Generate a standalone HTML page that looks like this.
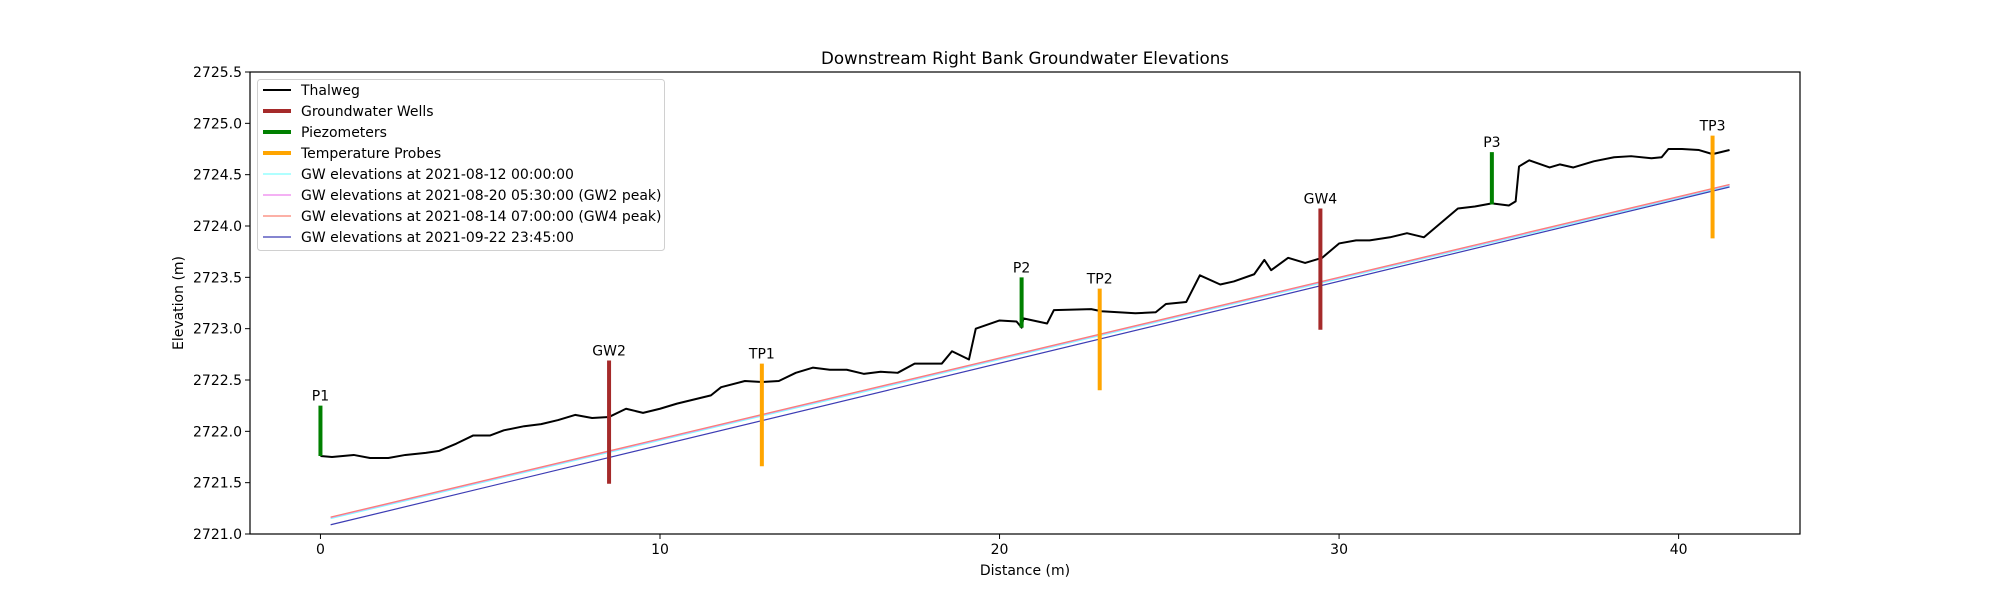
<!DOCTYPE html>
<html><head><meta charset="utf-8"><style>
body{margin:0;background:#fff;}
svg{display:block;font-family:"DejaVu Sans","Liberation Sans",sans-serif;}
</style></head><body>
<svg id="chart" width="2000" height="600" viewBox="0 0 2000 600" xmlns="http://www.w3.org/2000/svg">
<rect width="2000" height="600" fill="#fff"/>
<g id="marks"></g>
</svg>
<script>
const thalwegX=[0,0.34,0.98,1.46,2.0,2.5,3.1,3.5,4.0,4.5,5.0,5.4,6.0,6.5,7.0,7.5,8.0,8.5,9.0,9.5,10.0,10.5,11.0,11.5,11.8,12.5,13.0,13.5,14.0,14.5,15.0,15.5,16.0,16.5,17.0,17.5,18.3,18.6,19.1,19.3,20.0,20.5,20.65,20.7,21.4,21.6,22.7,23.0,24.0,24.6,24.9,25.5,25.9,26.5,26.9,27.5,27.8,28.0,28.5,29.0,29.5,30.0,30.5,30.9,31.5,32.0,32.5,33.5,34.0,34.5,35.0,35.2,35.3,35.6,36.2,36.5,36.9,37.5,38.1,38.6,39.2,39.5,39.7,40.1,40.6,41.0,41.5];
const thalwegY=[2721.76,2721.75,2721.77,2721.74,2721.74,2721.77,2721.79,2721.81,2721.88,2721.96,2721.96,2722.01,2722.05,2722.07,2722.11,2722.16,2722.13,2722.14,2722.22,2722.18,2722.22,2722.27,2722.31,2722.35,2722.43,2722.49,2722.48,2722.49,2722.57,2722.62,2722.60,2722.60,2722.56,2722.58,2722.57,2722.66,2722.66,2722.78,2722.70,2723.0,2723.08,2723.07,2723.01,2723.1,2723.05,2723.18,2723.19,2723.17,2723.15,2723.16,2723.24,2723.26,2723.52,2723.43,2723.46,2723.53,2723.67,2723.57,2723.69,2723.64,2723.69,2723.83,2723.86,2723.86,2723.89,2723.93,2723.89,2724.17,2724.19,2724.22,2724.2,2724.24,2724.58,2724.64,2724.57,2724.6,2724.57,2724.63,2724.67,2724.68,2724.66,2724.67,2724.75,2724.75,2724.74,2724.7,2724.74];
const instNames=["P1","GW2","TP1","P2","TP2","GW4","P3","TP3"];
const instType=["pz","gw","tp","pz","tp","gw","pz","tp"];
const instX=[0,8.5,13.0,20.65,22.95,29.45,34.5,41.0];
const instBottom=[2721.76,2721.49,2721.66,2723.01,2722.40,2722.99,2724.21,2723.88];
const instTop=[2722.25,2722.69,2722.66,2723.50,2723.39,2724.17,2724.72,2724.88];
const gwLabels=["GW elevations at 2021-08-12 00:00:00","GW elevations at 2021-08-20 05:30:00 (GW2 peak)","GW elevations at 2021-08-14 07:00:00 (GW4 peak)","GW elevations at 2021-09-22 23:45:00"];
const gwX=[0.3,41.5];
const gwStartY=[2721.15,2721.16,2721.165,2721.09];
const gwEndY=[2724.39,2724.40,2724.405,2724.38];
const xTicks=[0,10,20,30,40];
const yTicks=[2721.0,2721.5,2722.0,2722.5,2723.0,2723.5,2724.0,2724.5,2725.0,2725.5];

const L=250,R=1800,T=72,B=534;
const xMin=-2.075,xMax=43.575,yMin=2721,yMax=2725.5;
const sx=v=>L+(v-xMin)/(xMax-xMin)*(R-L);
const sy=v=>B-(v-yMin)/(yMax-yMin)*(B-T);
const NS="http://www.w3.org/2000/svg";
const g=document.getElementById('marks');
function mk(tag,attrs,parent){const e=document.createElementNS(NS,tag);for(const k in attrs)e.setAttribute(k,attrs[k]);(parent||g).appendChild(e);return e;}
const colors={gw:"#a52a2a",pz:"#008000",tp:"#ffa500"};
const gwColors=["#80ffff","#ee82ee","#fa8072","#3c3cb4"];

// GW lines
gwLabels.forEach((lab,i)=>{
  const e=mk('line',{x1:sx(gwX[0]),y1:sy(gwStartY[i]),x2:sx(gwX[1]),y2:sy(gwEndY[i]),stroke:gwColors[i],'stroke-width':1.2});
  
  
});
// thalweg
const tp=mk('polyline',{points:thalwegX.map((x,i)=>sx(x)+','+sy(thalwegY[i])).join(' '),fill:'none',stroke:'#000','stroke-width':2,'stroke-linejoin':'round'});


// instruments
instNames.forEach((n,i)=>{
  const e=mk('line',{x1:sx(instX[i]),x2:sx(instX[i]),y1:sy(instBottom[i]),y2:sy(instTop[i]),stroke:colors[instType[i]],'stroke-width':4});
  
  
  const t=mk('text',{x:sx(instX[i]),y:sy(instTop[i])-5,'text-anchor':'middle','font-size':14});
  t.textContent=n;
  
  
});
// frame
const fr=mk('rect',{x:L,y:T,width:R-L,height:B-T,fill:'none',stroke:'#000','stroke-width':1.2});


xTicks.forEach(v=>{
  const e=mk('line',{x1:sx(v),x2:sx(v),y1:B,y2:B+5,stroke:'#000'});
  
  
  const t=mk('text',{x:sx(v),y:B+20,'text-anchor':'middle','font-size':14});
  t.textContent=v;
  
  
});
yTicks.forEach(v=>{
  const e=mk('line',{x1:L-5,x2:L,y1:sy(v),y2:sy(v),stroke:'#000'});
  
  
  const t=mk('text',{x:L-8,y:sy(v)+5,'text-anchor':'end','font-size':14});
  t.textContent=v.toFixed(1);
  
  
});
const ti=mk('text',{x:(L+R)/2,y:64,'text-anchor':'middle','font-size':16.7});
ti.textContent='Downstream Right Bank Groundwater Elevations';


const xl=mk('text',{x:(L+R)/2,y:575,'text-anchor':'middle','font-size':14});
xl.textContent='Distance (m)';


const yl=mk('text',{x:183,y:(T+B)/2,'text-anchor':'middle','font-size':14,transform:'rotate(-90 183 '+((T+B)/2)+')'});
yl.textContent='Elevation (m)';


// legend
const lg=mk('g',{});


mk('rect',{x:257.5,y:79.5,width:407,height:171,rx:3,fill:'#fff','fill-opacity':0.8,stroke:'#d0d0d0'},lg);
const legLabels=["Thalweg","Groundwater Wells","Piezometers","Temperature Probes"].concat(gwLabels);
const legColors=["#000",colors.gw,colors.pz,colors.tp].concat(gwColors);
const legW=[2,4,4,4,1.2,1.2,1.2,1.2];
legLabels.forEach((lab,i)=>{
  const y=90+i*21;
  const e=mk('line',{x1:263,x2:291,y1:y,y2:y,stroke:legColors[i],'stroke-width':legW[i]},lg);
  
  
  const t=mk('text',{x:301,y:y+5,'font-size':14},lg);
  t.textContent=lab;
  
  
});
</script>
</body></html>
